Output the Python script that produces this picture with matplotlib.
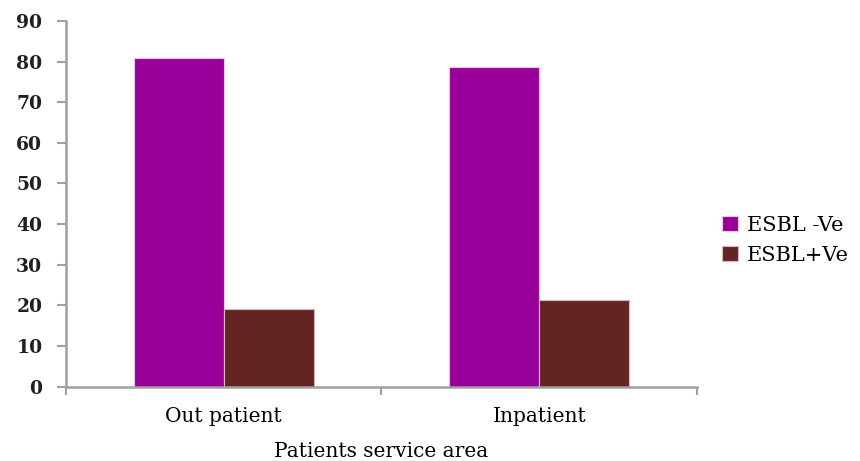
import matplotlib.pyplot as plt
import numpy as np

# service areas and percentage of isolates per ESBL status
areas = ['Out patient', 'Inpatient']
esbl_neg = [80.8, 78.7]
esbl_pos = [19.2, 21.3]
series_names = ['ESBL -Ve', 'ESBL+Ve']
colors = ['#990099', '#632523']

plt.rcParams['font.family'] = ['DejaVu Serif']

fig = plt.figure(figsize=(8.6, 4.61), dpi=100)
ax = fig.add_axes([0.0767, 0.1616, 0.7338, 0.7928])

x = np.arange(len(areas))
w = 0.285
ax.bar(x - w / 2, esbl_neg, w, color=colors[0], edgecolor='#e8c8e8', linewidth=0.8,
       label=series_names[0])
ax.bar(x + w / 2, esbl_pos, w, color=colors[1], edgecolor='#d8b8b8', linewidth=0.8,
       label=series_names[1])

ax.set_xlim(-0.5, 1.5)
ax.set_ylim(0, 90)
ax.set_yticks(range(0, 91, 10))

# ticks sit between the categories, labels at the category centres
ax.set_xticks([-0.5, 0.5, 1.5])
ax.set_xticklabels([])
ax.set_xticks(x, minor=True)
ax.set_xticklabels(areas, minor=True, fontsize=14.5)
ax.tick_params(axis='x', which='minor', length=0, pad=15)
ax.tick_params(axis='x', which='major', length=6, width=1.5, color='#a0a0a0')
ax.tick_params(axis='y', length=6.5, width=1.5, color='#a0a0a0', labelsize=13.5, pad=10.5)
for lab in ax.get_yticklabels():
    lab.set_fontweight('bold')
    lab.set_color('#202020')

for side in ['top', 'right']:
    ax.spines[side].set_visible(False)
for side in ['left', 'bottom']:
    ax.spines[side].set_color('#a0a0a0')
    ax.spines[side].set_linewidth(1.8)

ax.set_xlabel('Patients service area', fontsize=14.5, labelpad=11)

ax.legend(loc='center left', bbox_to_anchor=(1.01, 0.40), frameon=False,
          fontsize=15, handlelength=0.75, handleheight=0.75, handletextpad=0.45,
          labelspacing=0.55)

fig.savefig('out.png', dpi=100)
